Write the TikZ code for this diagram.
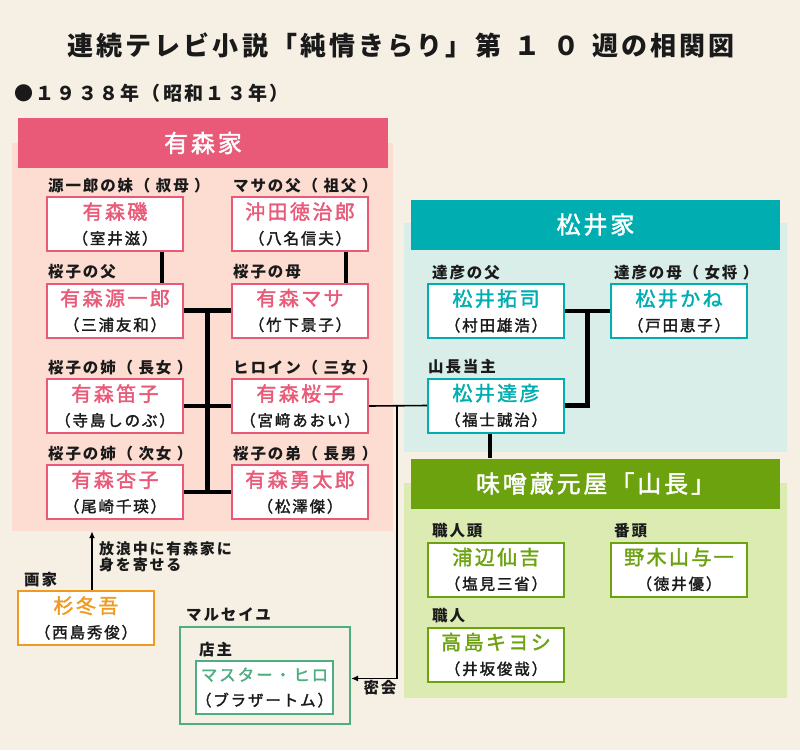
\documentclass[tikz,border=0pt]{standalone}
\usepackage{fontspec}
\setmainfont{Noto Sans CJK JP}
\newfontfamily\jpwide{Noto Sans CJK JP}[LetterSpace=12]
\newfontfamily\jpmid{Noto Sans CJK JP}[LetterSpace=12,UprightFeatures={FakeBold=1.8}]
\usetikzlibrary{arrows.meta,positioning,calc}
\definecolor{Paper}{HTML}{F5EFE4}
\definecolor{Ink}{HTML}{1A1A1A}
\definecolor{Pink}{HTML}{E85A78}
\definecolor{PinkSoft}{HTML}{FDDDD2}
\definecolor{Teal}{HTML}{00AEB1}
\definecolor{TealSoft}{HTML}{D9EEE8}
\definecolor{Leaf}{HTML}{6BA20E}
\definecolor{LeafSoft}{HTML}{DCEBB2}
\definecolor{Amber}{HTML}{F09A1F}
\definecolor{Sea}{HTML}{4FAE80}
\newcommand{\who}[1]{{\color{Ink}\jpmid\fontsize{15.5}{15.5}\selectfont #1}}
\tikzset{
  person/.style={draw,line width=2pt,fill=white,minimum width=136pt,minimum height=54pt,inner sep=0pt,align=center,font=\jpmid\fontsize{20}{25}\selectfont},
  pinkbox/.style={person,draw=Pink,text=Pink},
  tealbox/.style={person,draw=Teal,text=Teal},
  leafbox/.style={person,draw=Leaf,text=Leaf},
  amberbox/.style={person,draw=Amber,text=Amber},
  seabox/.style={person,draw=Sea,text=Sea},
  panel/.style={inner sep=0pt,minimum width=#1},
  head/.style={inner sep=0pt,minimum height=50pt,minimum width=369pt,text=white,font=\jpmid\fontsize{24}{28}\selectfont},
  lab/.style={inner sep=0pt,anchor=south west,text=Ink,font=\jpwide\bfseries\fontsize{15.5}{17}\selectfont},
  kin/.style={line width=4.5pt,draw=black},
  tie/.style={line width=1.6pt,draw=black},
  tieArrow/.style={tie,-{Latex[length=7pt,width=6pt]}}
}
\begin{document}
\begin{tikzpicture}[x=1pt,y=-1pt]
  \useasboundingbox (0,0) rectangle (800,750);
  \fill[Paper] (0,0) rectangle (800,750);
  \node[text=Ink,font=\jpwide\bfseries\fontsize{26}{28}\selectfont] (title) at (401,45) {連続テレビ小説「純情きらり」第\hspace{13pt}１\hspace{13pt}０\hspace{13pt}週の相関図};
  \node[anchor=west,inner sep=0pt,text=Ink,font=\jpwide\bfseries\fontsize{19}{21}\selectfont] (year) at (14,93) {●１９３８年（昭和１３年）};

  % arimori family
  \node[panel=381pt,minimum height=388pt,fill=PinkSoft] (ariPanel) at (202.5,337) {};
  \node[head,fill=Pink,minimum width=370pt] (ariHead) at (203,143) {有森家};
  \node[pinkbox] (iso) at (115,224) {有森磯\\\who{（室井滋）}};
  \node[pinkbox] (oki) at (300,224) {沖田徳治郎\\\who{（八名信夫）}};
  \node[pinkbox] (gen) at (115,310.5) {有森源一郎\\\who{（三浦友和）}};
  \node[pinkbox] (masa) at (300,310.5) {有森マサ\\\who{（竹下景子）}};
  \node[pinkbox] (fue) at (115,406) {有森笛子\\\who{（寺島しのぶ）}};
  \node[pinkbox] (sak) at (300,406) {有森桜子\\\who{（宮﨑あおい）}};
  \node[pinkbox] (kyo) at (115,492) {有森杏子\\\who{（尾崎千瑛）}};
  \node[pinkbox] (yuta) at (300,492) {有森勇太郎\\\who{（松澤傑）}};
  \node[lab] (lIso) at ([shift={(2,-3)}]iso.north west) {源一郎の妹（ 叔母 ）};
  \node[lab] (lOki) at ([shift={(2,-3)}]oki.north west) {マサの父（ 祖父 ）};
  \node[lab] (lGen) at ([shift={(2,-3)}]gen.north west) {桜子の父};
  \node[lab] (lMasa) at ([shift={(2,-3)}]masa.north west) {桜子の母};
  \node[lab] (lFue) at ([shift={(2,-3)}]fue.north west) {桜子の姉（ 長女 ）};
  \node[lab] (lSak) at ([shift={(2,-3)}]sak.north west) {ヒロイン（ 三女 ）};
  \node[lab] (lKyo) at ([shift={(2,-3)}]kyo.north west) {桜子の姉（ 次女 ）};
  \node[lab] (lYuta) at ([shift={(2,-3)}]yuta.north west) {桜子の弟（ 長男 ）};
  \draw[kin] ([xshift=47]iso.south) -- ([xshift=47]gen.north);
  \draw[kin] ([xshift=46]oki.south) -- ([xshift=46]masa.north);
  \draw[kin] (gen.east) -- (masa.west);
  \coordinate (ariMid) at ($(gen.east)!.5!(masa.west)$);
  \draw[kin] (ariMid) -- (ariMid |- kyo.east);
  \draw[kin] (fue.east) -- (sak.west);
  \draw[kin] (kyo.east) -- (yuta.west);

  % matsui family
  \node[panel=383pt,minimum height=229pt,fill=TealSoft] (matPanel) at (595.5,337.5) {};
  \node[head,fill=Teal] (matHead) at (595.5,224.5) {松井家};
  \node[tealbox] (taku) at (496,311) {松井拓司\\\who{（村田雄浩）}};
  \node[tealbox] (kane) at (679,311) {松井かね\\\who{（戸田恵子）}};
  \node[tealbox] (tatsu) at (496,405.5) {松井達彦\\\who{（福士誠治）}};
  \node[lab] (lTaku) at ([shift={(5,-3)}]taku.north west) {達彦の父};
  \node[lab] (lKane) at ([shift={(4,-3)}]kane.north west) {達彦の母（ 女将 ）};
  \node[lab] (lTatsu) at ([shift={(1,-3)}]tatsu.north west) {山長当主};
  \draw[kin] (taku.east) -- (kane.west);
  \coordinate (matMid) at ($(taku.east)!.5!(kane.west)$);
  \draw[kin] (matMid) |- (tatsu.east);

  % yamacho
  \node[panel=383pt,minimum height=215pt,fill=LeafSoft] (yamaPanel) at (595.5,590.5) {};
  \node[head,fill=Leaf] (yamaHead) at (595.5,483.5) {味噌蔵元屋「山長」};
  \node[leafbox] (ura) at (496,569.5) {浦辺仙吉\\\who{（塩見三省）}};
  \node[leafbox] (nogi) at (679,569.5) {野木山与一\\\who{（徳井優）}};
  \node[leafbox] (taka) at (496,654.5) {高島キヨシ\\\who{（井坂俊哉）}};
  \node[lab] (lUra) at ([shift={(5,-3)}]ura.north west) {職人頭};
  \node[lab] (lNogi) at ([shift={(4,-3)}]nogi.north west) {番頭};
  \node[lab] (lTaka) at ([shift={(5,-3)}]taka.north west) {職人};
  \draw[kin] ([xshift=-6]tatsu.south) -- ([xshift=-6]tatsu.south |- yamaHead.north);

  % painter and marseille
  \node[amberbox] (sugi) at (86,618) {杉冬吾\\\who{（西島秀俊）}};
  \node[lab] (lSugi) at ([shift={(7,-3)}]sugi.north west) {画家};
  \draw[tieArrow] ([xshift=6]sugi.north) -- ([xshift=6]sugi.north |- ariPanel.south);
  \node[lab,anchor=west,font=\jpwide\bfseries\fontsize{15}{16}\selectfont,align=left] (lStay) at (99,557) {放浪中に有森家に\\身を寄せる};
  \node[draw=Sea,line width=2pt,minimum width=170pt,minimum height=97pt,inner sep=0pt] (mars) at (265,675.5) {};
  \node[lab] (lMars) at ([shift={(7,-4)}]mars.north west) {マルセイユ};
  \node[seabox,minimum width=135pt,minimum height=53pt,font=\jpmid\fontsize{16.5}{25}\selectfont] (hiro) at (264.5,687.5) {マスター・ヒロ\\\who{（ブラザートム）}};
  \node[lab] (lHiro) at ([shift={(4,-3)}]hiro.north west) {店主};

  % secret meeting
  \draw[tie] (sak.east) -- (tatsu.west);
  \coordinate (jn) at ([xshift=28]sak.east);
  \draw[tieArrow] (jn) |- ([yshift=-3]mars.east);
  \node[lab,anchor=center] (lMeet) at (380,688) {密会};
\end{tikzpicture}
\end{document}
